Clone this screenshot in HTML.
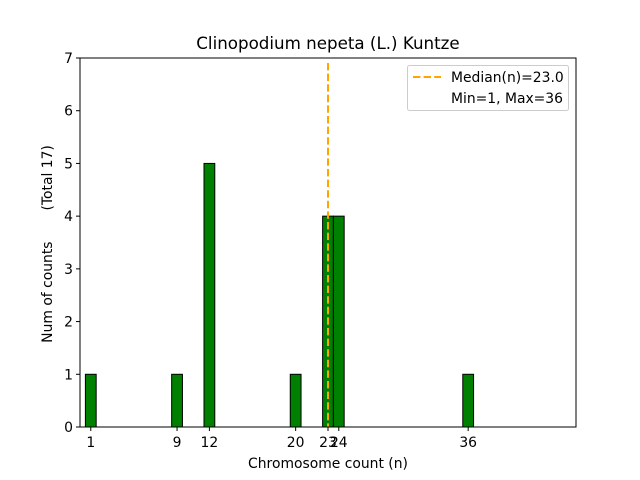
<!DOCTYPE html>
<html><head><meta charset="utf-8"><style>
html,body{margin:0;padding:0;background:#fff;}
svg{display:block;font-family:"DejaVu Sans","Liberation Sans",sans-serif;}
</style></head><body>
<svg id="chart" width="640" height="480" viewBox="0 0 640 480">
<rect width="640" height="480" fill="#fff"/>
<text x="328" y="49" text-anchor="middle" font-size="16.7" fill="#000">Clinopodium nepeta (L.) Kuntze</text>
<g id="bars"></g>
<g id="xticks"></g>
<g id="yticks"></g>
<line id="median" stroke="#ffa500" stroke-width="2" stroke-dasharray="7.4,3.2"/>
<rect x="80" y="58" width="496" height="369" fill="none" stroke="#000" stroke-width="1"/>
<text x="328" y="468" text-anchor="middle" font-size="13.9">Chromosome count (n)</text>
<text transform="translate(52,244) rotate(-90)" text-anchor="middle" font-size="13.9" style="white-space:pre" xml:space="preserve">Num of counts       (Total 17)</text>
<g>
<rect x="407.5" y="65.5" width="161" height="45" rx="2" fill="#fff" fill-opacity="0.8" stroke="#ccc"/>
<line x1="413" y1="77" x2="441" y2="77" stroke="#ffa500" stroke-width="2" stroke-dasharray="7.4,3.2"/>
<text x="451" y="82" font-size="13.9">Median(n)=23.0</text>
<text x="451" y="103" font-size="13.9">Min=1, Max=36</text>
</g>
</svg>
<script>
const counts = [1, 9, 12, 20, 23, 24, 36];
const frequencies = [1, 1, 5, 1, 4, 4, 1];
const xTickLabels = [1, 9, 12, 20, 23, 24, 36];
const yTickLabels = [0, 1, 2, 3, 4, 5, 6, 7];
const medianValue = 23.0;
const binStart = 1, binEnd = 39;

const NS = "http://www.w3.org/2000/svg";
const L = 80, R = 576, T = 58, B = 427;
const xMin = 0, xMax = 46, yMin = 0, yMax = 7;
function xs(v){ return L + (v - xMin) / (xMax - xMin) * (R - L); }
function ys(v){ return B - (v - yMin) / (yMax - yMin) * (B - T); }
function mk(tag, attrs){ const e = document.createElementNS(NS, tag); for (const k in attrs) e.setAttribute(k, attrs[k]); return e; }

const bars = document.getElementById('bars');
for (let v = binStart; v <= binEnd; v++) {
  const i = counts.indexOf(v);
  const h = i >= 0 ? frequencies[i] : 0;
  const x0 = xs(v - 0.5), x1 = xs(v + 0.5);
  const r = mk('rect', {x: x0, y: ys(h), width: x1 - x0, height: ys(0) - ys(h), fill: '#008000', stroke: '#000', 'stroke-width': 1, 'stroke-opacity': h > 0 ? 1 : 0.35});
  
  
  bars.appendChild(r);
}

const xt = document.getElementById('xticks');
xTickLabels.forEach(v => {
  const l = mk('line', {x1: xs(v), x2: xs(v), y1: B, y2: B + 4, stroke: '#000'});
  
  
  xt.appendChild(l);
  const t = mk('text', {x: xs(v), y: B + 20, 'text-anchor': 'middle', 'font-size': 13.9});
  t.textContent = v;
  
  
  xt.appendChild(t);
});

const yt = document.getElementById('yticks');
yTickLabels.forEach(v => {
  const l = mk('line', {x1: L - 4, x2: L, y1: ys(v), y2: ys(v), stroke: '#000'});
  
  
  yt.appendChild(l);
  const t = mk('text', {x: L - 7, y: ys(v) + 5, 'text-anchor': 'end', 'font-size': 13.9});
  t.textContent = v;
  
  
  yt.appendChild(t);
});

const m = document.getElementById('median');
m.setAttribute('x1', xs(medianValue));
m.setAttribute('x2', xs(medianValue));
m.setAttribute('y1', T + 5);
m.setAttribute('y2', B);
</script>
</body></html>
